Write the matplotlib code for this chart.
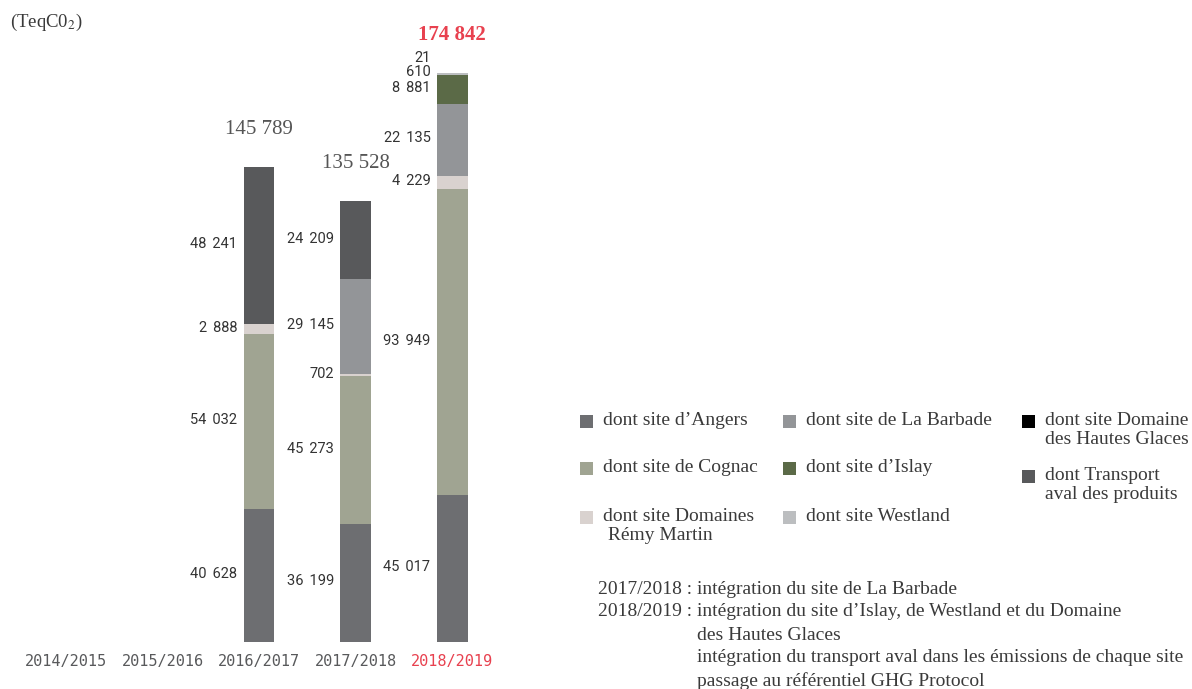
import matplotlib.pyplot as plt
from matplotlib.patches import Rectangle

# Emissions par site (TeqCO2)
years = ['2014/2015', '2015/2016', '2016/2017', '2017/2018', '2018/2019']
angers = [0, 0, 40628, 36199, 45017]
cognac = [0, 0, 54032, 45273, 93949]
remy_martin = [0, 0, 2888, 702, 4229]
la_barbade = [0, 0, 0, 29145, 22135]
islay = [0, 0, 0, 0, 8881]
westland = [0, 0, 0, 0, 610]
hautes_glaces = [0, 0, 0, 0, 21]
transport = [0, 0, 48241, 24209, 0]
totals = [0, 0, 145789, 135528, 174842]

notes = [
    ('2017/2018 :', 'intégration du site de La Barbade'),
    ('2018/2019 :', 'intégration du site d\u2019Islay, de Westland et du Domaine'),
    ('', 'des Hautes Glaces'),
    ('', 'intégration du transport aval dans les émissions de chaque site'),
    ('', 'passage au référentiel GHG Protocol'),
]

# ordre d'empilement (bas -> haut)
series = [
    ('angers', angers, '#6d6e71', 'dont site d\u2019Angers'),
    ('cognac', cognac, '#a0a492', 'dont site de Cognac'),
    ('remy', remy_martin, '#d9d2cf', 'dont site Domaines\n Rémy Martin'),
    ('barbade', la_barbade, '#939598', 'dont site de La Barbade'),
    ('islay', islay, '#5b6a47', 'dont site d\u2019Islay'),
    ('westland', westland, '#bcbec0', 'dont site Westland'),
    ('glaces', hautes_glaces, '#000000', 'dont site Domaine\ndes Hautes Glaces'),
    ('transport', transport, '#58595b', 'dont Transport\naval des produits'),
]

RED = '#e8414f'
GREY = '#58595b'
TXT = '#3a3a3a'
serif = ['Liberation Serif', 'DejaVu Serif']
plt.rcParams['mathtext.fontset'] = 'stix'

fig = plt.figure(figsize=(11.92, 6.89), dpi=100)
ax = fig.add_axes([8 / 1192, 47.5 / 689, 502 / 1192, 585.5 / 689])
ax.set_xlim(-0.6, 4.6)
ax.set_ylim(0, 180000)

x = list(range(len(years)))
width = 0.32
bottom = [0] * len(years)
nudge = {'glaces': 10}
for key, vals, color, _ in series:
    ax.bar(x, vals, width, bottom=bottom, color=color, linewidth=0)
    for i, v in enumerate(vals):
        if v == 0:
            continue
        ax.annotate(f'{v:,}'.replace(',', '\u2009\u2009'), (i - width / 2, bottom[i] + v / 2),
                    xytext=(-4.5, 1 + nudge.get(key, 0)), textcoords='offset points',
                    ha='right', va='center', fontsize=10.5, color='#333333',
                    family=['Roboto', 'DejaVu Sans'])
    bottom = [b + v for b, v in zip(bottom, vals)]

for i, t in enumerate(totals):
    if t == 0:
        continue
    last = i == len(years) - 1
    ax.annotate(f'{t:,}'.replace(',', ' '), (i, t), xytext=(0, 27),
                textcoords='offset points', ha='center', va='center',
                fontsize=15, family=serif, color=RED if last else '#555555',
                fontweight='bold' if last else 'normal')

ax.set_xticks(x)
ax.set_xticklabels(years, family='DejaVu Sans Mono', fontsize=11)
for lbl in ax.get_xticklabels():
    lbl.set_color(GREY)
ax.get_xticklabels()[-1].set_color(RED)
ax.tick_params(axis='x', length=0, pad=9)
ax.set_yticks([])
for s in ax.spines.values():
    s.set_visible(False)

fig.text(10 / 1192, 1 - 22 / 689, '(TeqC0$_2$)', fontsize=13.5, family=serif,
         color=TXT, va='center')

# légende en trois colonnes
cols_x = [580, 783, 1022]
rows_y = [421, 468, 517]
layout = [(0, 0), (0, 1), (0, 2), (1, 0), (1, 1), (1, 2), (2, 0), (2, 1)]
col_rows = {2: [421, 476]}
for (key, _, color, label), (c, r) in zip(series, layout):
    y = col_rows.get(c, rows_y)[r]
    fig.patches.append(Rectangle((cols_x[c] / 1192, 1 - (y + 6.5) / 689), 13 / 1192, 13 / 689,
                                 transform=fig.transFigure, color=color, linewidth=0))
    fig.text((cols_x[c] + 23) / 1192, 1 - (y - 9) / 689, label, fontsize=14,
             family=serif, color=TXT, va='top', linespacing=1.15)

for k, (prefix, line) in enumerate(notes):
    y = 1 - (589 + 23 * k) / 689
    if prefix:
        fig.text(692 / 1192, y, prefix, fontsize=14, family=serif, color=TXT,
                 va='center', ha='right')
    fig.text(697 / 1192, y, line, fontsize=14, family=serif, color=TXT, va='center')

fig.savefig('out.png', dpi=100)
